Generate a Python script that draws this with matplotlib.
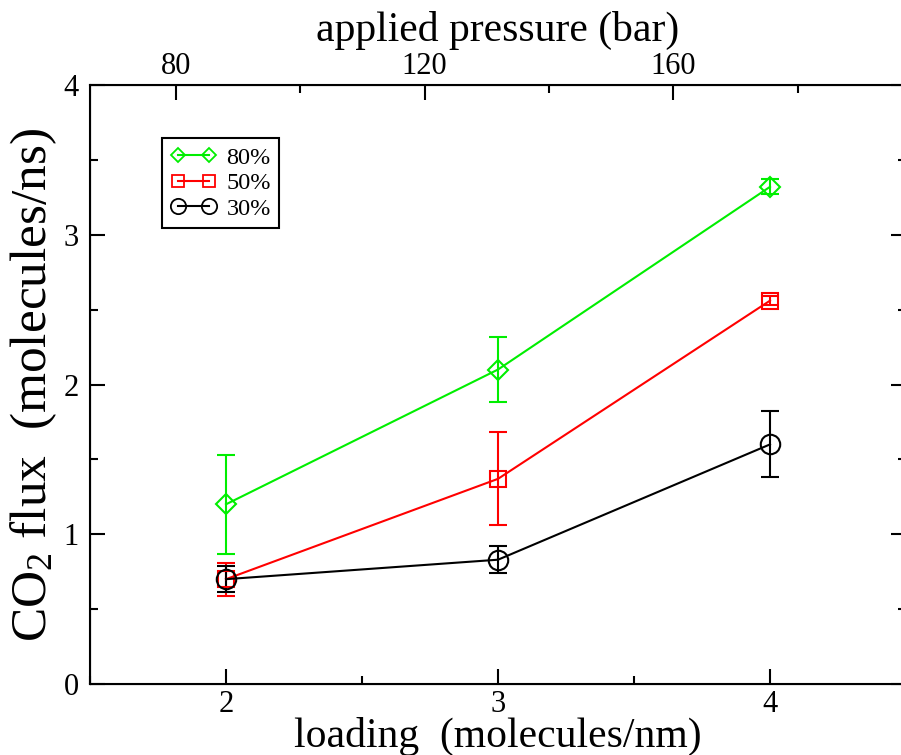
import numpy as np
import matplotlib
matplotlib.use("Agg")
import matplotlib.pyplot as plt
from matplotlib.lines import Line2D
from matplotlib.ticker import MultipleLocator

plt.rcParams["font.family"] = ["Liberation Serif", "DejaVu Serif"]
plt.rcParams["mathtext.fontset"] = "custom"
plt.rcParams["mathtext.rm"] = "Liberation Serif"
plt.rcParams["mathtext.it"] = "Liberation Serif:italic"
plt.rcParams["mathtext.default"] = "regular"

# loading (molecules/nm)
loading = [2, 3, 4]

# CO2 flux (molecules/ns) and error bars for each series
flux_80 = [1.20, 2.10, 3.32]
err_80 = [0.33, 0.22, 0.05]
flux_50 = [0.70, 1.37, 2.56]
err_50 = [0.11, 0.31, 0.03]
flux_30 = [0.70, 0.83, 1.60]
err_30 = [0.085, 0.09, 0.22]

series = [
    ("80%", flux_80, err_80, "#00ee00", "D", 10, 7.5),
    ("50%", flux_50, err_50, "#ff0000", "s", 11.5, 9),
    ("30%", flux_30, err_30, "#000000", "o", 14, 11),
]

fig = plt.figure(figsize=(9.01, 7.55), dpi=100)
ax = fig.add_axes([90 / 901, 1 - 684 / 755, 816 / 901, 599 / 755])

handles = []
for label, y, err, color, marker, ms, ms_leg in series:
    ax.errorbar(
        loading, y, yerr=err,
        color=color, linewidth=1.5, elinewidth=1.5,
        capsize=6.5, capthick=1.5,
        marker=marker, markersize=ms, markerfacecolor="none",
        markeredgecolor=color, markeredgewidth=1.5,
    )
    handles.append(Line2D([], [], color=color, linewidth=1.5, marker=marker,
                          markersize=ms_leg, markerfacecolor="none",
                          markeredgecolor=color, markeredgewidth=1.3,
                          label=label))

ax.set_xlim(1.5, 4.5)
ax.set_ylim(0, 4)
ax.xaxis.set_major_locator(MultipleLocator(1))
ax.xaxis.set_minor_locator(MultipleLocator(0.5))
ax.yaxis.set_major_locator(MultipleLocator(1))
ax.yaxis.set_minor_locator(MultipleLocator(0.5))
ax.set_xticks([2, 3, 4])

ax.tick_params(which="both", direction="in", width=1.5, labelsize=22,
               top=False, right=True)
ax.tick_params(which="major", length=11)
ax.tick_params(which="minor", length=6)
ax.tick_params(axis="x", pad=4)
ax.tick_params(axis="y", pad=8)
for sp in ax.spines.values():
    sp.set_linewidth(1.5)

ax.set_xlabel("loading  (molecules/nm)", fontsize=30, labelpad=-1)
ax.set_ylabel(r"CO$_2$ flux  (molecules/ns)", fontsize=37, labelpad=3)

# top axis: applied pressure
ax2 = ax.twiny()
ax2.set_xlim(66.2, 197.4)
ax2.xaxis.set_major_locator(MultipleLocator(40))
ax2.xaxis.set_minor_locator(MultipleLocator(20))
ax2.tick_params(which="both", direction="in", width=1.5, labelsize=22, pad=3)
ax2.tick_params(which="major", length=11)
ax2.tick_params(which="minor", length=6)
ax2.set_xlabel("applied pressure (bar)", fontsize=30, labelpad=8)

leg = ax.legend(
    handles=handles,
    loc="upper left", bbox_to_anchor=(162 / 901, 1 - 138 / 755),
    bbox_transform=fig.transFigure, fontsize=17.5, numpoints=2,
    handlelength=1.9, handletextpad=0.4,
    labelspacing=0.15, borderpad=0.35, borderaxespad=0,
    fancybox=False, framealpha=1, edgecolor="black",
)
leg.get_frame().set_linewidth(1.5)

fig.savefig("out.png", dpi=100)
